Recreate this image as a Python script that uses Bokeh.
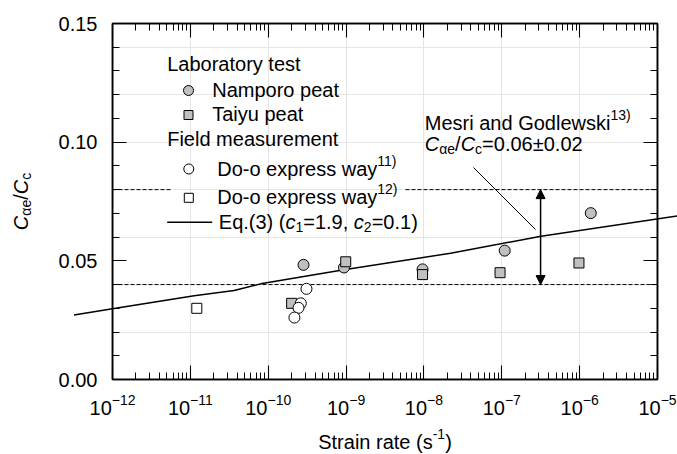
import math
from bokeh.plotting import figure
from bokeh.core.properties import value
from bokeh.models import (Range1d, LogAxis, LinearAxis, FixedTicker, PrintfTickFormatter,
                          LogTickFormatter, CustomJSTickFormatter, Arrow, NormalHead, BoxAnnotation)
from bokeh.embed import file_html
from bokeh.resources import INLINE

# ---------------- data ----------------
namporo_rate = [2.84e-10, 9.4e-10, 9.6e-9, 1.09e-7, 1.39e-6]
namporo_ratio = [0.0483, 0.0472, 0.0464, 0.0543, 0.0701]

taiyu_rate = [2.0e-10, 9.9e-10, 9.6e-9, 9.5e-8, 9.8e-7]
taiyu_ratio = [0.0321, 0.0496, 0.0442, 0.0450, 0.0491]

doo11_rate = [3.1e-10, 2.62e-10, 2.45e-10, 2.17e-10]
doo11_ratio = [0.0382, 0.0321, 0.0302, 0.0261]

doo12_rate = [1.21e-11]
doo12_ratio = [0.0300]

eq3_rate = [3.2e-13, 1.0e-12, 1.12e-11, 3.65e-11, 8.0e-11, 9.4e-10, 2.2e-8, 3.2e-7, 1.8e-5]
eq3_ratio = [0.0272, 0.0298, 0.0353, 0.0375, 0.0403, 0.0462, 0.0532, 0.0604, 0.0689]

mesri_center = 0.06
mesri_range = 0.02
mesri_rate = 3.15e-7

x_ticks = [1e-12, 1e-11, 1e-10, 1e-9, 1e-8, 1e-7, 1e-6, 1e-5]
y_ticks = [0.00, 0.05, 0.10, 0.15]
x_minor_mult = [2, 3, 4, 5, 6, 7, 8, 9]
y_minor_step = 0.01

# ---------------- layout ----------------
W, H = 677, 454
L, R, T, B = 112, 657, 23, 379
XMIN, XMAX = 1e-12, 1e-5
YMIN, YMAX = 0.0, 0.15
FONT = "Liberation Sans"
FS = 20
GRAY = "#c0c0c0"
TEXT_SHIFT = -7.5   # empirical correction of the rendered baseline

DEC = (R - L) / (math.log10(XMAX) - math.log10(XMIN))


def xd(px):
    return 10 ** (math.log10(XMIN) + (px - L) / DEC)


def yd(py):
    return YMIN + (B - py) / (B - T) * (YMAX - YMIN)


AW = {' ': 278, '!': 278, '(': 333, ')': 333, ',': 278, '-': 333, '.': 278, '/': 278,
      '=': 584, '±': 549, 'α': 578,
      'A': 667, 'B': 667, 'C': 722, 'D': 722, 'E': 667, 'F': 611, 'G': 778, 'H': 722,
      'I': 278, 'L': 556, 'M': 833, 'N': 722, 'O': 778, 'P': 667, 'R': 722, 'S': 667, 'T': 611,
      'a': 556, 'b': 556, 'c': 500, 'd': 556, 'e': 556, 'f': 278, 'g': 556, 'h': 556,
      'i': 222, 'j': 222, 'k': 500, 'l': 222, 'm': 833, 'n': 556, 'o': 556, 'p': 556,
      'q': 556, 'r': 333, 's': 500, 't': 278, 'u': 556, 'v': 500, 'w': 722, 'x': 500,
      'y': 500, 'z': 500}


def tw(s, size):
    return sum(AW.get(c, 556) for c in s) * size / 1000.0


def piece_size(kind, size):
    return size if kind in ("n", "i") else round(size * 0.68)


def piece_shift(kind, size):
    return {"n": 0, "i": 0, "sup": -size * 0.40, "sub": size * 0.25}[kind]


def rich_width(pieces, size=FS):
    return sum(tw(t, piece_size(k, size)) for t, k in pieces)


def put_text(p, x, y, text, fs, italic=False, angle=0.0):
    r = p.text(x=[x], y=[y], text=[text], angle=angle,
               text_font=value(FONT), text_font_size=value(f"{fs}px"),
               text_font_style="italic" if italic else "normal",
               text_baseline="alphabetic", text_align="left", text_color="black")
    r.level = "overlay"
    return r


def rich(p, x0, yb, pieces, size=FS):
    x = x0
    for text, kind in pieces:
        fs = piece_size(kind, size)
        put_text(p, xd(x), yd(yb + TEXT_SHIFT + piece_shift(kind, size)), text, fs, italic=(kind == "i"))
        x += tw(text, fs)


def rich_vertical(p, xb, y0, pieces, size=FS):
    y = y0
    for text, kind in pieces:
        fs = piece_size(kind, size)
        put_text(p, xd(xb + TEXT_SHIFT + piece_shift(kind, size)), yd(y), text, fs,
                 italic=(kind == "i"), angle=math.pi / 2)
        y -= tw(text, fs)


p = figure(frame_width=R - L, frame_height=B - T,
           min_border_left=L, min_border_right=W - R, min_border_top=T, min_border_bottom=H - B,
           x_axis_type="log", x_axis_location=None, y_axis_location=None,
           x_range=Range1d(XMIN, XMAX), y_range=Range1d(YMIN, YMAX),
           output_backend="svg", toolbar_location=None)
p.outline_line_color = "black"
p.outline_line_width = 1.5
p.background_fill_color = "white"
p.border_fill_color = "white"

minor_x = [k * t for t in x_ticks[:-1] for k in x_minor_mult]
minor_y = [round(y_minor_step * i, 2) for i in range(1, 15) if i % 5]
empty = CustomJSTickFormatter(code="return ''")


def style_axis(ax, labels=True):
    ax.axis_line_width = 1.5
    ax.axis_line_color = "black"
    ax.major_tick_in = 14
    ax.major_tick_out = 0
    ax.minor_tick_in = 7
    ax.minor_tick_out = 0
    ax.major_tick_line_width = 1.1
    ax.minor_tick_line_width = 1.0
    ax.major_tick_line_color = "black"
    ax.minor_tick_line_color = "black"
    ax.major_label_text_font = FONT
    ax.major_label_text_font_size = f"{FS}px" if labels else "1px"
    ax.major_label_text_color = "black"
    if not labels:
        ax.major_label_standoff = 0


xb = LogAxis(ticker=FixedTicker(ticks=x_ticks, minor_ticks=minor_x), formatter=LogTickFormatter())
style_axis(xb)
xb.major_label_standoff = 14
p.add_layout(xb, "below")

xt = LogAxis(ticker=FixedTicker(ticks=x_ticks, minor_ticks=minor_x), formatter=empty)
style_axis(xt, labels=False)
p.add_layout(xt, "above")

yl = LinearAxis(ticker=FixedTicker(ticks=y_ticks, minor_ticks=minor_y),
                formatter=PrintfTickFormatter(format="%.2f"))
style_axis(yl)
yl.major_label_standoff = 15
p.add_layout(yl, "left")

yr = LinearAxis(ticker=FixedTicker(ticks=y_ticks, minor_ticks=minor_y), formatter=empty)
style_axis(yr, labels=False)
p.add_layout(yr, "right")

# extra frame box (in case the axis lines are not drawn)
p.add_layout(BoxAnnotation(left=XMIN, right=XMAX, bottom=YMIN, top=YMAX,
                           fill_alpha=0, fill_color=None, line_color="black", line_width=1.5))

# Mesri & Godlewski band (dashed lines), the upper one interrupted by the legend
DASH = "4 2"
p.segment(x0=[XMIN, xd(405)], y0=[mesri_center + mesri_range] * 2,
          x1=[xd(170), XMAX], y1=[mesri_center + mesri_range] * 2,
          line_color="black", line_width=1, line_dash=DASH)
p.segment(x0=[XMIN], y0=[mesri_center - mesri_range], x1=[XMAX], y1=[mesri_center - mesri_range],
          line_color="black", line_width=1, line_dash=DASH)

# Eq.(3) line (extends past the frame in the reference)
eq = p.line(eq3_rate, eq3_ratio, line_color="black", line_width=1.5)
eq.level = "overlay"

# double arrow
p.add_layout(Arrow(x_start=mesri_rate, y_start=mesri_center - mesri_range,
                   x_end=mesri_rate, y_end=mesri_center + mesri_range,
                   start=NormalHead(size=9, fill_color="black", line_color="black"),
                   end=NormalHead(size=9, fill_color="black", line_color="black"),
                   line_color="black", line_width=1.5))

# leader line from the note to the arrow
p.segment(x0=[xd(473)], y0=[yd(167)], x1=[xd(535)], y1=[yd(229)], line_color="black", line_width=1)

# data markers
for rates, ratios, mk, sz, fc in [(namporo_rate, namporo_ratio, "circle", 11, GRAY),
                                  (taiyu_rate, taiyu_ratio, "square", 10, GRAY),
                                  (doo11_rate, doo11_ratio, "circle", 11, "white"),
                                  (doo12_rate, doo12_ratio, "square", 10, "white")]:
    r = p.scatter(rates, ratios, marker=mk, size=sz, fill_color=fc, line_color="black", line_width=1)
    r.level = "overlay"

# ---------------- legend (hand-built) ----------------
rich(p, 166.7, 70.5, [("Laboratory test", "n")])
p.scatter([xd(188)], [yd(90)], marker="circle", size=10, fill_color=GRAY, line_color="black")
rich(p, 211.7, 97, [("Namporo peat", "n")])
p.scatter([xd(188)], [yd(114.5)], marker="square", size=9, fill_color=GRAY, line_color="black")
rich(p, 211.7, 121, [("Taiyu peat", "n")])
rich(p, 166.7, 145.5, [("Field measurement", "n")])
p.scatter([xd(188.3)], [yd(168.5)], marker="circle", size=10, fill_color="white", line_color="black")
rich(p, 216.7, 175.5, [("Do-o express way", "n"), ("11)", "sup")])
p.scatter([xd(188.3)], [yd(197.3)], marker="square", size=9, fill_color="white", line_color="black")
rich(p, 216.7, 203.5, [("Do-o express way", "n"), ("12)", "sup")])
p.segment(x0=[xd(166.7)], y0=[yd(221.7)], x1=[xd(211.7)], y1=[yd(221.7)], line_color="black", line_width=1.5)
rich(p, 218.3, 228.5, [("Eq.(3) (", "n"), ("c", "i"), ("1", "sub"), ("=1.9, ", "n"),
                       ("c", "i"), ("2", "sub"), ("=0.1)", "n")])

# note
rich(p, 424.3, 129.5, [("Mesri and Godlewski", "n"), ("13)", "sup")])
rich(p, 424.3, 150.5, [("C", "i"), ("αe", "sub"), ("/", "n"), ("C", "i"), ("c", "sub"),
                       ("=0.06±0.02", "n")])

# axis titles
xlab = [("Strain rate (s", "n"), ("-1", "sup"), (")", "n")]
rich(p, (L + R) / 2 - rich_width(xlab) / 2, 449, xlab)
ylab = [("C", "i"), ("αe", "sub"), ("/", "n"), ("C", "i"), ("c", "sub")]
rich_vertical(p, 28, (T + B) / 2 + rich_width(ylab) / 2, ylab)

open("out.html", "w").write(file_html(p, INLINE))
